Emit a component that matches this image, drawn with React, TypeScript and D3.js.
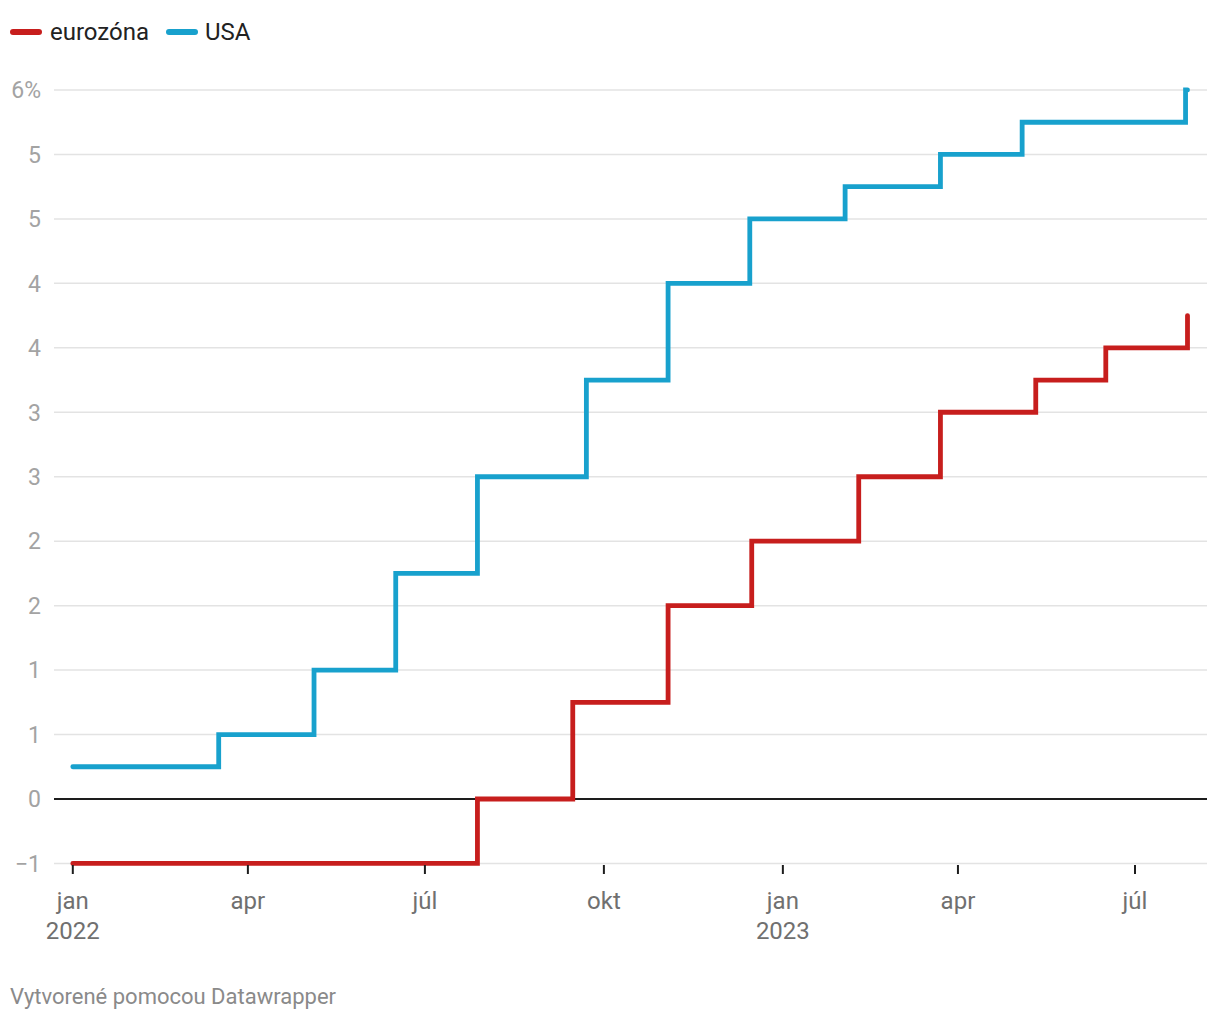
import React from "react"
import * as d3 from "d3"

type Step = { date: string; value: number }

// ECB deposit rate (%)
const eurozone: Step[] = [
  { date: "2022-01-01", value: -0.5 },
  { date: "2022-07-28", value: 0 },
  { date: "2022-09-15", value: 0.75 },
  { date: "2022-11-03", value: 1.5 },
  { date: "2022-12-16", value: 2.0 },
  { date: "2023-02-09", value: 2.5 },
  { date: "2023-03-23", value: 3.0 },
  { date: "2023-05-11", value: 3.25 },
  { date: "2023-06-16", value: 3.5 },
  { date: "2023-07-28", value: 3.75 },
]

// Fed funds upper bound (%)
const usa: Step[] = [
  { date: "2022-01-01", value: 0.25 },
  { date: "2022-03-17", value: 0.5 },
  { date: "2022-05-05", value: 1.0 },
  { date: "2022-06-16", value: 1.75 },
  { date: "2022-07-28", value: 2.5 },
  { date: "2022-09-22", value: 3.25 },
  { date: "2022-11-03", value: 4.0 },
  { date: "2022-12-15", value: 4.5 },
  { date: "2023-02-02", value: 4.75 },
  { date: "2023-03-23", value: 5.0 },
  { date: "2023-05-04", value: 5.25 },
  { date: "2023-07-27", value: 5.5 },
  { date: "2023-07-28", value: 5.5 },
]

const yTicks = [-0.5, 0, 0.5, 1, 1.5, 2, 2.5, 3, 3.5, 4, 4.5, 5, 5.5]
const yTickLabels = ["−1", "0", "1", "1", "2", "2", "3", "3", "4", "4", "5", "5", "6%"]

const xTicks = ["2022-01-01", "2022-04-01", "2022-07-01", "2022-10-01", "2023-01-01", "2023-04-01", "2023-07-01"]
const xTickLabels = [["jan", "2022"], ["apr"], ["júl"], ["okt"], ["jan", "2023"], ["apr"], ["júl"]]

const series = [
  { name: "eurozóna", color: "#c71e1d", data: eurozone },
  { name: "USA", color: "#18a1cd", data: usa },
]

const parse = d3.timeParse("%Y-%m-%d")

const W = 1220
const H = 1020
const FONT = "Roboto, 'Noto Sans', sans-serif"

export default function App() {
  const x = d3
    .scaleTime()
    .domain([parse("2022-01-01")!, parse("2023-07-28")!])
    .range([72.8, 1187.5])

  const y = d3.scaleLinear().domain([0, 5.5]).range([799, 90])

  const line = d3
    .line<Step>()
    .x((d) => x(parse(d.date)!))
    .y((d) => y(d.value))
    .curve(d3.curveStepAfter)

  const gridLeft = 54
  const gridRight = 1207

  return (
    <svg
      width={W}
      height={H}
      style={{ position: "absolute", left: 0, top: 0, background: "#fff" }}
      fontFamily={FONT}
    >
      {/* legend */}
      <g>
        <line x1={13} x2={39} y1={32} y2={32} stroke={series[0].color} strokeWidth={6} strokeLinecap="round" />
        <text x={50} y={40} fontSize={24} fill="#222">{series[0].name}</text>
        <line x1={169} x2={195} y1={32} y2={32} stroke={series[1].color} strokeWidth={6} strokeLinecap="round" />
        <text x={205} y={40} fontSize={24} fill="#222">{series[1].name}</text>
      </g>

      {/* y grid + labels */}
      {yTicks.map((t, i) => (
        <g key={t}>
          <line
            x1={gridLeft}
            x2={gridRight}
            y1={y(t)}
            y2={y(t)}
            stroke={t === 0 ? "#1d1d1d" : "#e3e3e3"}
            strokeWidth={t === 0 ? 2 : 1.5}
          />
          <text
            x={41}
            y={y(t)}
            dy="0.36em"
            textAnchor="end"
            fontSize={23}
            fill="#a3a3a3"
          >
            {yTickLabels[i]}
          </text>
        </g>
      ))}

      {/* series */}
      {series.map((s) => (
        <path
          key={s.name}
          d={line(s.data) || ""}
          fill="none"
          stroke={s.color}
          strokeWidth={4.8}
          strokeLinecap="round"
          strokeLinejoin="miter"
        />
      ))}

      {/* x axis ticks */}
      {xTicks.map((t, i) => {
        const px = x(parse(t)!)
        return (
          <g key={t}>
            <line x1={px} x2={px} y1={865} y2={874} stroke="#1d1d1d" strokeWidth={2} />
            {xTickLabels[i].map((l, j) => (
              <text key={j} x={px} y={909 + j * 30} textAnchor="middle" fontSize={24} fill="#707070">
                {l}
              </text>
            ))}
          </g>
        )
      })}

      <text x={10} y={1004} fontSize={22} fill="#8a8a8a">
        Vytvorené pomocou Datawrapper
      </text>
    </svg>
  )
}
